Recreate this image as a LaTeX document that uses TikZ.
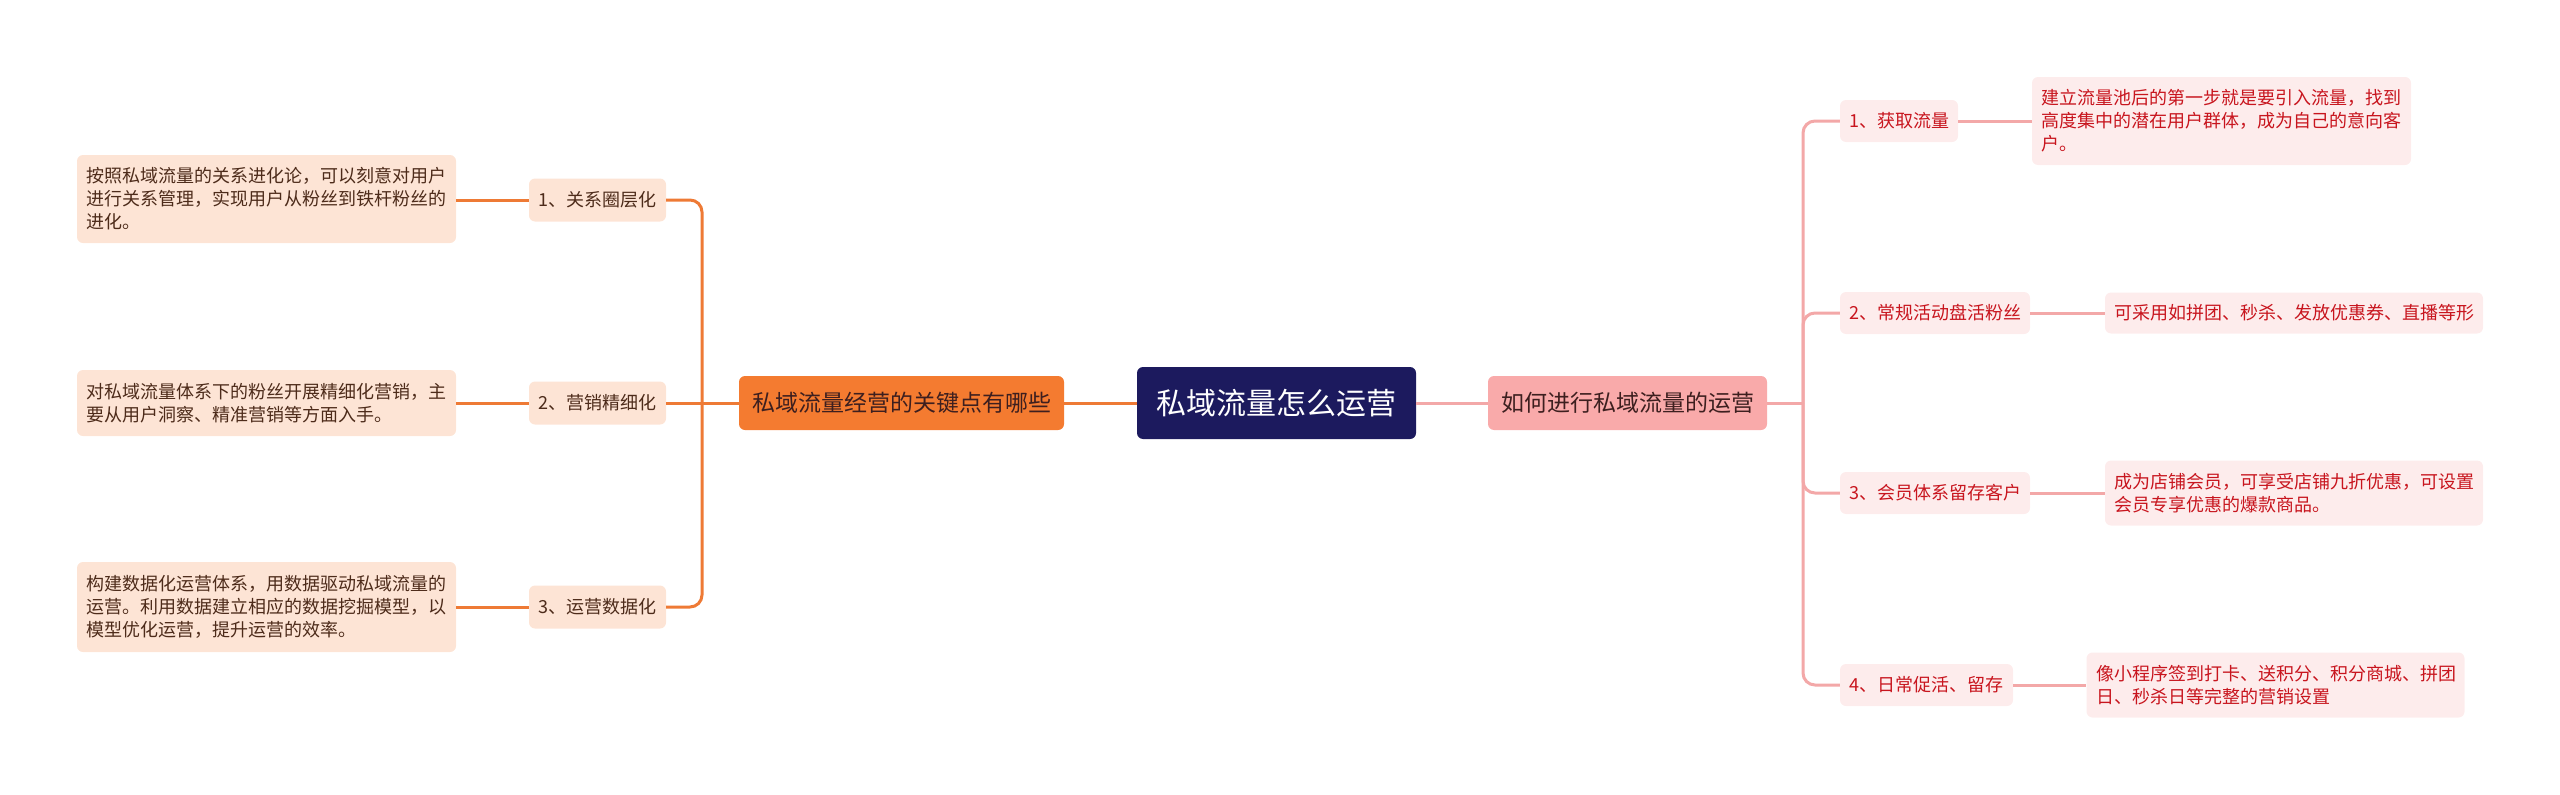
\documentclass[tikz,border=0pt]{standalone}
\usepackage{fontspec}
\setmainfont{Noto Sans CJK SC}
\definecolor{navy}{HTML}{1C1A5E}
\definecolor{orangemain}{HTML}{F47B30}
\definecolor{orangeline}{HTML}{EE7A35}
\definecolor{peach}{HTML}{FDE4D5}
\definecolor{brown}{HTML}{4D2B1A}
\definecolor{pinkmain}{HTML}{F9AAAA}
\definecolor{pinkline}{HTML}{F3A8A8}
\definecolor{pinkfill}{HTML}{FDECEC}
\definecolor{redtext}{HTML}{C8151E}
\definecolor{darktext}{HTML}{3D1F1F}
\begin{document}
\begin{tikzpicture}[x=1pt,y=-1pt,
  centerbox/.style={fill=navy,rounded corners=6pt,text=white,font=\fontsize{30}{36}\selectfont,inner sep=0pt,minimum width=279pt,minimum height=72pt},
  orangebox/.style={fill=orangemain,rounded corners=6pt,text=darktext,font=\fontsize{23}{28}\selectfont,inner sep=0pt,minimum width=325pt,minimum height=54pt},
  pinkbox/.style={fill=pinkmain,rounded corners=6pt,text=darktext,font=\fontsize{23}{28}\selectfont,inner sep=0pt,minimum width=279pt,minimum height=54pt},
  lnode/.style={fill=peach,rounded corners=6pt,text=brown,font=\fontsize{18}{23}\selectfont,inner sep=0pt,minimum width=137pt,minimum height=43pt},
  lleaf/.style={fill=peach,rounded corners=6pt,text=brown,font=\fontsize{18}{23}\selectfont,inner xsep=9.5pt,inner ysep=0pt,text width=360pt,align=left,minimum width=379pt},
  rnode/.style={fill=pinkfill,rounded corners=6pt,text=redtext,font=\fontsize{18}{23}\selectfont,inner sep=0pt,minimum height=42pt},
  rleaf/.style={fill=pinkfill,rounded corners=6pt,text=redtext,font=\fontsize{18}{23}\selectfont,inner xsep=9.5pt,inner ysep=0pt,text width=359pt,align=left,minimum width=378pt},
  oline/.style={draw=orangeline,line width=3pt},
  pline/.style={draw=pinkline,line width=3pt}
]
\useasboundingbox (0,0) rectangle (2560,795);

% main nodes
\node[centerbox] (c) at (1276.5,403) {私域流量怎么运营};
\node[orangebox] (o) at (901.5,403) {私域流量经营的关键点有哪些};
\node[pinkbox] (p) at (1627.5,403) {如何进行私域流量的运营};

% left branch
\node[lnode] (l1) at (597.5,200) {1、关系圈层化};
\node[lnode] (l2) at (597.5,403) {2、营销精细化};
\node[lnode] (l3) at (597.5,607) {3、运营数据化};
\node[lleaf,minimum height=88pt] (ll1) at (266.5,199) {按照私域流量的关系进化论，可以刻意对用户\\进行关系管理，实现用户从粉丝到铁杆粉丝的\\进化。};
\node[lleaf,minimum height=66pt] (ll2) at (266.5,403) {对私域流量体系下的粉丝开展精细化营销，主\\要从用户洞察、精准营销等方面入手。};
\node[lleaf,minimum height=90pt] (ll3) at (266.5,607) {构建数据化运营体系，用数据驱动私域流量的\\运营。利用数据建立相应的数据挖掘模型，以\\模型优化运营，提升运营的效率。};

% right branch
\node[rnode,minimum width=118pt] (r1) at (1899,121) {1、获取流量};
\node[rnode,minimum width=190pt] (r2) at (1935,313) {2、常规活动盘活粉丝};
\node[rnode,minimum width=190pt] (r3) at (1935,493) {3、会员体系留存客户};
\node[rnode,minimum width=173pt] (r4) at (1926.5,685) {4、日常促活、留存};
\node[rleaf,text width=360pt,minimum width=379pt,minimum height=88pt] (rl1) at (2221.5,121) {建立流量池后的第一步就是要引入流量，找到\\高度集中的潜在用户群体，成为自己的意向客\\户。};
\node[rleaf,minimum height=41pt] (rl2) at (2294,313) {可采用如拼团、秒杀、发放优惠券、直播等形};
\node[rleaf,minimum height=65pt] (rl3) at (2294,493) {成为店铺会员，可享受店铺九折优惠，可设置\\会员专享优惠的爆款商品。};
\node[rleaf,minimum height=65pt] (rl4) at (2275.5,685) {像小程序签到打卡、送积分、积分商城、拼团\\日、秒杀日等完整的营销设置};

% connectors center
\draw[oline] (c.west) -- (o.east);
\draw[pline] (c.east) -- (p.west);

% left connectors
\coordinate (lj) at (702,403);
\draw[oline] (o.west) -- (l2.east);
\draw[oline,rounded corners=12pt] (lj) |- (l1.east);
\draw[oline,rounded corners=12pt] (lj) |- (l3.east);
\draw[oline] (l1.west) -- (ll1.east |- l1.west);
\draw[oline] (l2.west) -- (ll2.east);
\draw[oline] (l3.west) -- (ll3.east);

% right connectors
\coordinate (rj) at (1803,403);
\draw[pline] (p.east) -- (rj);
\draw[pline,rounded corners=12pt] (rj) |- (r1.west);
\draw[pline,rounded corners=12pt] (rj) |- (r2.west);
\draw[pline,rounded corners=12pt] (rj) |- (r3.west);
\draw[pline,rounded corners=12pt] (rj) |- (r4.west);
\draw[pline] (r1.east) -- (rl1.west);
\draw[pline] (r2.east) -- (rl2.west);
\draw[pline] (r3.east) -- (rl3.west);
\draw[pline] (r4.east) -- (rl4.west);
\end{tikzpicture}
\end{document}
